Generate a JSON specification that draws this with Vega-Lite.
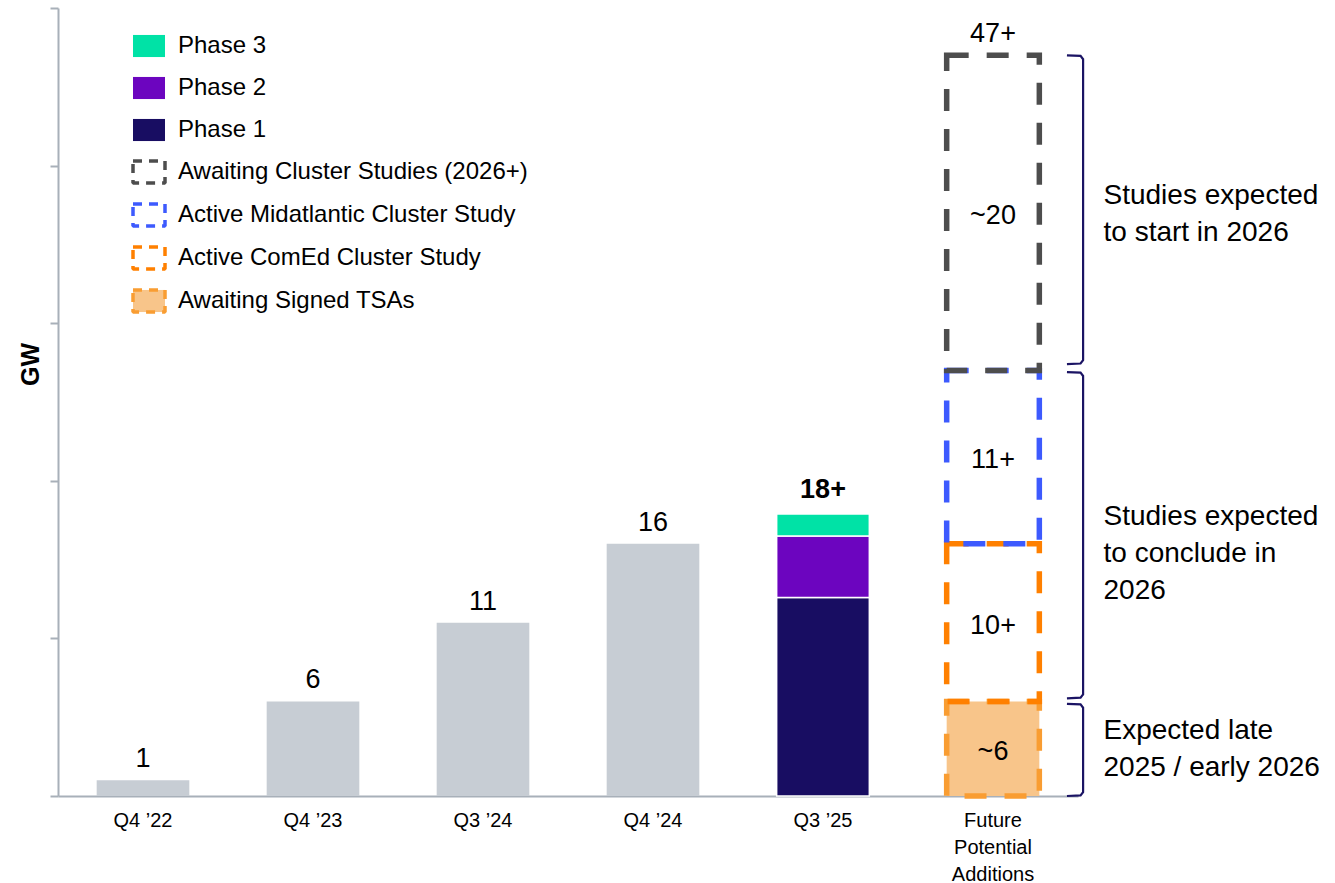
{
  "$schema": "https://vega.github.io/schema/vega-lite/v6.json",
  "width": 1020,
  "height": 788,
  "autosize": {"type": "none"},
  "padding": {"left": 58, "top": 8, "right": 257, "bottom": 87},
  "background": "white",
  "config": {
    "view": {"stroke": null},
    "font": "Liberation Sans",
    "text": {"font": "Liberation Sans"},
    "axisY": {
      "labels": false, "grid": false, "tickSize": 8, "tickColor": "#A8B0B9", "tickWidth": 2,
      "domainColor": "#A8B0B9", "domainWidth": 2, "tickCount": 5,
      "titleFontSize": 25, "titleFontWeight": "bold", "titleColor": "#000000", "titleFont": "Liberation Sans",
      "titleAngle": -90, "titleX": -28, "titleY": 356, "titleAlign": "center", "titleBaseline": "middle"
    },
    "legend": {
      "title": null, "orient": "none", "legendX": 73, "legendY": 20, "padding": 0,
      "symbolType": "M-1,-0.69H1V0.69H-1Z", "symbolSize": 1024, "symbolStrokeWidth": 3.5,
      "labelFontSize": 24, "labelFont": "Liberation Sans", "labelColor": "#000000", "labelOffset": 11,
      "labelLimit": 500, "rowPadding": 12
    }
  },
  "datasets": {
    "hist": [
      {"period": "Q4 ’22", "gw": 1},
      {"period": "Q4 ’23", "gw": 6},
      {"period": "Q3 ’24", "gw": 11},
      {"period": "Q4 ’24", "gw": 16}
    ],
    "phases": [
      {"period": "Q3 ’25", "series": "Phase 1", "gw": 12.6, "ord": 1},
      {"period": "Q3 ’25", "series": "Phase 2", "gw": 3.9, "ord": 2},
      {"period": "Q3 ’25", "series": "Phase 3", "gw": 1.4, "ord": 3}
    ],
    "future": [
      {"period": "Future Potential Additions", "series": "Awaiting Signed TSAs", "gw": 6, "ord": 1, "mid": 3, "label": "~6"},
      {"period": "Future Potential Additions", "series": "Active ComEd Cluster Study", "gw": 10, "ord": 2, "mid": 11, "label": "10+"},
      {"period": "Future Potential Additions", "series": "Active Midatlantic Cluster Study", "gw": 11, "ord": 3, "mid": 21.5, "label": "11+"},
      {"period": "Future Potential Additions", "series": "Awaiting Cluster Studies (2026+)", "gw": 20, "ord": 4, "mid": 37, "label": "~20"}
    ],
    "totals": [
      {"period": "Q4 ’22", "total": 1, "label": "1"},
      {"period": "Q4 ’23", "total": 6, "label": "6"},
      {"period": "Q3 ’24", "total": 11, "label": "11"},
      {"period": "Q4 ’24", "total": 16, "label": "16"},
      {"period": "Future Potential Additions", "total": 47, "label": "47+"}
    ],
    "boldtotals": [
      {"period": "Q3 ’25", "total": 17.9, "label": "18+"}
    ],
    "brackets": [
      {"b": "A", "o": 1, "bx": 5.935, "by": 47},
      {"b": "A", "o": 2, "bx": 6.015, "by": 46.96},
      {"b": "A", "o": 3, "bx": 6.03, "by": 46.75},
      {"b": "A", "o": 4, "bx": 6.03, "by": 27.65},
      {"b": "A", "o": 5, "bx": 6.015, "by": 27.44},
      {"b": "A", "o": 6, "bx": 5.935, "by": 27.4},
      {"b": "B", "o": 1, "bx": 5.935, "by": 26.9},
      {"b": "B", "o": 2, "bx": 6.015, "by": 26.86},
      {"b": "B", "o": 3, "bx": 6.03, "by": 26.65},
      {"b": "B", "o": 4, "bx": 6.03, "by": 6.45},
      {"b": "B", "o": 5, "bx": 6.015, "by": 6.24},
      {"b": "B", "o": 6, "bx": 5.935, "by": 6.2},
      {"b": "C", "o": 1, "bx": 5.935, "by": 5.85},
      {"b": "C", "o": 2, "bx": 6.015, "by": 5.81},
      {"b": "C", "o": 3, "bx": 6.03, "by": 5.6},
      {"b": "C", "o": 4, "bx": 6.03, "by": 0.25},
      {"b": "C", "o": 5, "bx": 6.015, "by": 0.04},
      {"b": "C", "o": 6, "bx": 5.935, "by": 0}
    ],
    "notes": [
      {"nx": 6.15, "ny": 38.1, "t": "Studies expected\nto start in 2026"},
      {"nx": 6.15, "ny": 17.72, "t": "Studies expected\nto conclude in\n2026"},
      {"nx": 6.15, "ny": 4.12, "t": "Expected late\n2025 / early 2026"}
    ]
  },
  "layer": [
    {
      "layer": [
        {
          "data": {"name": "hist"},
          "mark": {"type": "bar", "color": "#C7CDD4"},
          "encoding": {
            "x": {
              "field": "period", "type": "nominal", "sort": null,
              "scale": {"domain": ["Q4 ’22", "Q4 ’23", "Q3 ’24", "Q4 ’24", "Q3 ’25", "Future Potential Additions"], "paddingInner": 0.455, "paddingOuter": 0.2275},
              "axis": {
                "title": null, "ticks": false, "labelAngle": 0, "labelFontSize": 20, "labelFont": "Liberation Sans",
                "labelColor": "#000000", "labelPadding": 14, "labelBaseline": "top", "labelLineHeight": 27,
                "domainColor": "#A8B0B9", "domainWidth": 2,
                "labelExpr": "datum.value == 'Future Potential Additions' ? ['Future', 'Potential', 'Additions'] : datum.label"
              }
            },
            "y": {"field": "gw", "type": "quantitative", "title": "GW", "scale": {"domain": [0, 50], "nice": false}}
          }
        },
        {
          "data": {"name": "phases"},
          "mark": {"type": "bar", "stroke": "white", "strokeWidth": 1.5},
          "encoding": {
            "x": {"field": "period", "type": "nominal", "sort": null},
            "y": {"field": "gw", "type": "quantitative", "title": "GW", "stack": "zero", "scale": {"domain": [0, 50], "nice": false}},
            "order": {"field": "ord"},
            "fill": {
              "field": "series", "type": "nominal",
              "scale": {
                "domain": ["Phase 3", "Phase 2", "Phase 1", "Awaiting Cluster Studies (2026+)", "Active Midatlantic Cluster Study", "Active ComEd Cluster Study", "Awaiting Signed TSAs"],
                "range": ["#00E2A6", "#6C05BF", "#180D62", "transparent", "transparent", "transparent", "#F8C58A"]
              },
              "legend": {
                "encode": {"symbols": {"update": {
                  "strokeDash": {"signal": "indexof(['Phase 1','Phase 2','Phase 3'], datum.value) >= 0 ? [] : [9,7]"},
                  "strokeWidth": {"value": 3.5},
                  "strokeJoin": {"value": "bevel"},
                  "strokeOpacity": {"signal": "indexof(['Phase 1','Phase 2','Phase 3'], datum.value) >= 0 ? 0 : 1"}
                }}}
              }
            }
          }
        },
        {
          "data": {"name": "future"},
          "mark": {"type": "bar", "strokeWidth": 5.5, "strokeDash": [22, 18]},
          "encoding": {
            "x": {"field": "period", "type": "nominal", "sort": null},
            "y": {"field": "gw", "type": "quantitative", "title": "GW", "stack": "zero", "scale": {"domain": [0, 50], "nice": false}},
            "order": {"field": "ord"},
            "fill": {
              "field": "series", "type": "nominal",
              "scale": {
                "domain": ["Phase 3", "Phase 2", "Phase 1", "Awaiting Cluster Studies (2026+)", "Active Midatlantic Cluster Study", "Active ComEd Cluster Study", "Awaiting Signed TSAs"],
                "range": ["#00E2A6", "#6C05BF", "#180D62", "transparent", "transparent", "transparent", "#F8C58A"]
              },
              "legend": {
                "encode": {"symbols": {"update": {
                  "strokeDash": {"signal": "indexof(['Phase 1','Phase 2','Phase 3'], datum.value) >= 0 ? [] : [9,7]"},
                  "strokeWidth": {"value": 3.5},
                  "strokeJoin": {"value": "bevel"},
                  "strokeOpacity": {"signal": "indexof(['Phase 1','Phase 2','Phase 3'], datum.value) >= 0 ? 0 : 1"}
                }}}
              }
            },
            "stroke": {
              "field": "series", "type": "nominal",
              "scale": {
                "domain": ["Phase 3", "Phase 2", "Phase 1", "Awaiting Cluster Studies (2026+)", "Active Midatlantic Cluster Study", "Active ComEd Cluster Study", "Awaiting Signed TSAs"],
                "range": ["#00E2A6", "#6C05BF", "#180D62", "#4D4D4D", "#3D5AFE", "#FF8000", "#F99D32"]
              },
              "legend": {
                "encode": {"symbols": {"update": {
                  "strokeDash": {"signal": "indexof(['Phase 1','Phase 2','Phase 3'], datum.value) >= 0 ? [] : [9,7]"},
                  "strokeWidth": {"value": 3.5},
                  "strokeJoin": {"value": "bevel"},
                  "strokeOpacity": {"signal": "indexof(['Phase 1','Phase 2','Phase 3'], datum.value) >= 0 ? 0 : 1"}
                }}}
              }
            }
          }
        },
        {
          "data": {"name": "future"},
          "mark": {"type": "text", "fontSize": 27, "baseline": "middle", "dy": 3, "color": "#000000"},
          "encoding": {
            "x": {"field": "period", "type": "nominal", "sort": null},
            "y": {"field": "mid", "type": "quantitative", "title": "GW", "scale": {"domain": [0, 50], "nice": false}},
            "text": {"field": "label"}
          }
        },
        {
          "data": {"name": "totals"},
          "mark": {"type": "text", "fontSize": 27, "baseline": "alphabetic", "dy": -13, "color": "#000000"},
          "encoding": {
            "x": {"field": "period", "type": "nominal", "sort": null},
            "y": {"field": "total", "type": "quantitative", "title": "GW", "scale": {"domain": [0, 50], "nice": false}},
            "text": {"field": "label"}
          }
        },
        {
          "data": {"name": "boldtotals"},
          "mark": {"type": "text", "fontSize": 27, "fontWeight": "bold", "baseline": "alphabetic", "dy": -16, "color": "#000000"},
          "encoding": {
            "x": {"field": "period", "type": "nominal", "sort": null},
            "y": {"field": "total", "type": "quantitative", "title": "GW", "scale": {"domain": [0, 50], "nice": false}},
            "text": {"field": "label"}
          }
        }
      ]
    },
    {
      "layer": [
        {
          "data": {"name": "brackets"},
          "mark": {"type": "line", "color": "#1B1464", "strokeWidth": 2.2, "interpolate": "linear"},
          "encoding": {
            "x": {"field": "bx", "type": "quantitative", "scale": {"domain": [0, 6], "nice": false, "zero": false}, "axis": null},
            "y": {"field": "by", "type": "quantitative", "title": "GW", "scale": {"domain": [0, 50], "nice": false}},
            "detail": {"field": "b"},
            "order": {"field": "o"}
          }
        },
        {
          "data": {"name": "notes"},
          "mark": {"type": "text", "align": "left", "baseline": "middle", "fontSize": 28, "lineBreak": "\n", "lineHeight": 37, "color": "#000000"},
          "encoding": {
            "x": {"field": "nx", "type": "quantitative", "axis": null},
            "y": {"field": "ny", "type": "quantitative", "title": "GW", "scale": {"domain": [0, 50], "nice": false}},
            "text": {"field": "t"}
          }
        }
      ]
    }
  ],
  "resolve": {"scale": {"x": "independent"}}
}
